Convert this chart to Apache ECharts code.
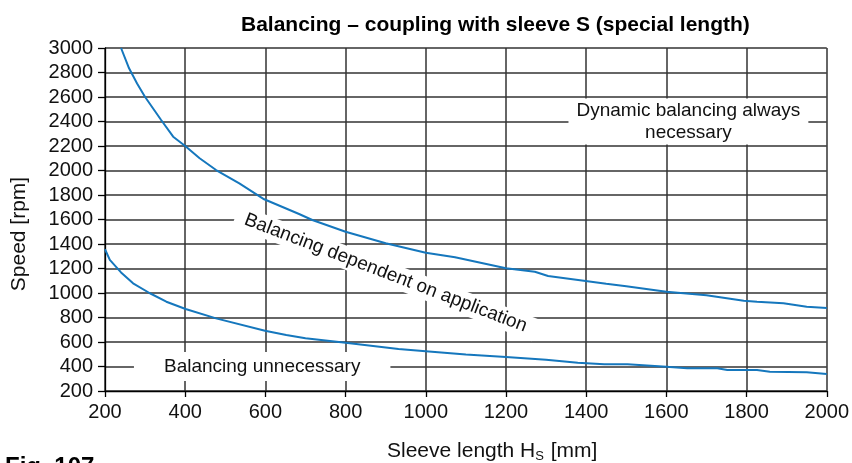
<!DOCTYPE html>
<html>
<head>
<meta charset="utf-8">
<script src="https://cdn.jsdelivr.net/npm/echarts@6/dist/echarts.min.js"></script>
<style>html,body{margin:0;padding:0;background:#fff}#c{width:852px;height:463px}</style>
</head>
<body>
<div id="c"></div>
<script>
// Data
const upperX = [240, 260, 280, 300, 340, 370, 400, 436, 477, 535, 597, 684, 717, 800, 900, 1000, 1073, 1200, 1272, 1305, 1380, 1450, 1500, 1600, 1700, 1793, 1826, 1892, 1950, 2000];
const upperY = [3000, 2834, 2710, 2600, 2412, 2276, 2200, 2100, 2004, 1895, 1765, 1645, 1596, 1500, 1406, 1329, 1291, 1202, 1174, 1139, 1106, 1075, 1055, 1011, 982, 937, 929, 916, 888, 878];
const lowerX = [200, 212, 240, 270, 312, 353, 401, 477, 599, 652, 700, 800, 932, 1000, 1100, 1200, 1300, 1379, 1445, 1503, 1600, 1652, 1727, 1752, 1826, 1858, 1950, 2000];
const lowerY = [1357, 1270, 1168, 1079, 998, 929, 869, 793, 692, 657, 630, 594, 543, 525, 497, 478, 455, 431, 418, 418, 398, 385, 385, 371, 371, 358, 353, 339];
const xTicks = [200, 400, 600, 800, 1000, 1200, 1400, 1600, 1800, 2000];
const yTicks = [200, 400, 600, 800, 1000, 1200, 1400, 1600, 1800, 2000, 2200, 2400, 2600, 2800, 3000];
const noteTexts = ['Dynamic balancing always\nnecessary', 'Balancing dependent on application', 'Balancing unnecessary'];
const noteX = [1655, 900, 592];
const noteY = [2400, 1163, 400];

const FONT = '"Liberation Sans", Arial, Helvetica, sans-serif';
const chart = echarts.init(document.getElementById('c'));
const zip = (a, b) => a.map((v, i) => [v, b[i]]);
const noteStyles = [
  {padding: [1, 8], lineHeight: 22, align: 'center'},
  {padding: [2, 10], rotate: -21},
  {padding: [5, 30]}
];
chart.setOption({
  animation: false,
  textStyle: {fontFamily: FONT},
  title: {
    text: 'Balancing – coupling with sleeve S (special length)',
    left: 236, top: 10,
    textStyle: {fontFamily: FONT, fontSize: 21, fontWeight: 'bold', color: '#000'}
  },
  grid: {left: 105, right: 22, top: 48, bottom: 72},
  xAxis: {
    type: 'value', min: xTicks[0], max: xTicks[xTicks.length - 1], interval: 200,
    axisLine: {show: true, lineStyle: {color: '#000', width: 1.3}},
    axisTick: {show: true, length: 6, lineStyle: {color: '#000', width: 1.3}},
    axisLabel: {fontSize: 20, color: '#111', margin: 11, fontFamily: FONT, formatter: v => String(v)},
    splitLine: {show: true, lineStyle: {color: '#333', width: 1.5}}
  },
  yAxis: {
    type: 'value', min: yTicks[0], max: yTicks[yTicks.length - 1], interval: 200,
    axisLine: {show: true, lineStyle: {color: '#000', width: 1.3}},
    axisTick: {show: true, length: 7, lineStyle: {color: '#000', width: 1.3}},
    axisLabel: {fontSize: 20, color: '#111', margin: 12, fontFamily: FONT, formatter: v => String(v)},
    splitLine: {show: true, lineStyle: {color: '#333', width: 1.5}}
  },
  graphic: [
    {type: 'text', x: 19, y: 234, rotation: Math.PI / 2,
     style: {text: 'Speed [rpm]', fontSize: 21, fontFamily: FONT, fill: '#111', textAlign: 'center', textVerticalAlign: 'middle'}},
    {type: 'text', x: 387, y: 440,
     style: {text: 'Sleeve length H{sub|S} [mm]', fontSize: 21, fontFamily: FONT, fill: '#111',
       rich: {sub: {fontSize: 13, padding: [10, 1, 0, 0], fontFamily: FONT, fill: '#111'}}}},
    {type: 'text', x: 5, y: 455,
     style: {text: 'Fig. 107', fontSize: 24, fontWeight: 'bold', fontFamily: FONT, fill: '#000'}}
  ],
  series: [
    {type: 'line', data: zip(upperX, upperY), symbol: 'none', lineStyle: {color: '#1577bd', width: 2}, z: 5,
     markPoint: {
       symbol: 'rect', symbolSize: 0, silent: true,
       data: noteTexts.map((t, i) => ({
         coord: [noteX[i], noteY[i]],
         label: Object.assign({show: true, position: 'inside', formatter: t, fontSize: 19, color: '#111',
           fontFamily: FONT, backgroundColor: '#fff'}, noteStyles[i])
       }))
     }},
    {type: 'line', data: zip(lowerX, lowerY), symbol: 'none', lineStyle: {color: '#1577bd', width: 2}, z: 5}
  ]
});
</script>
</body>
</html>
